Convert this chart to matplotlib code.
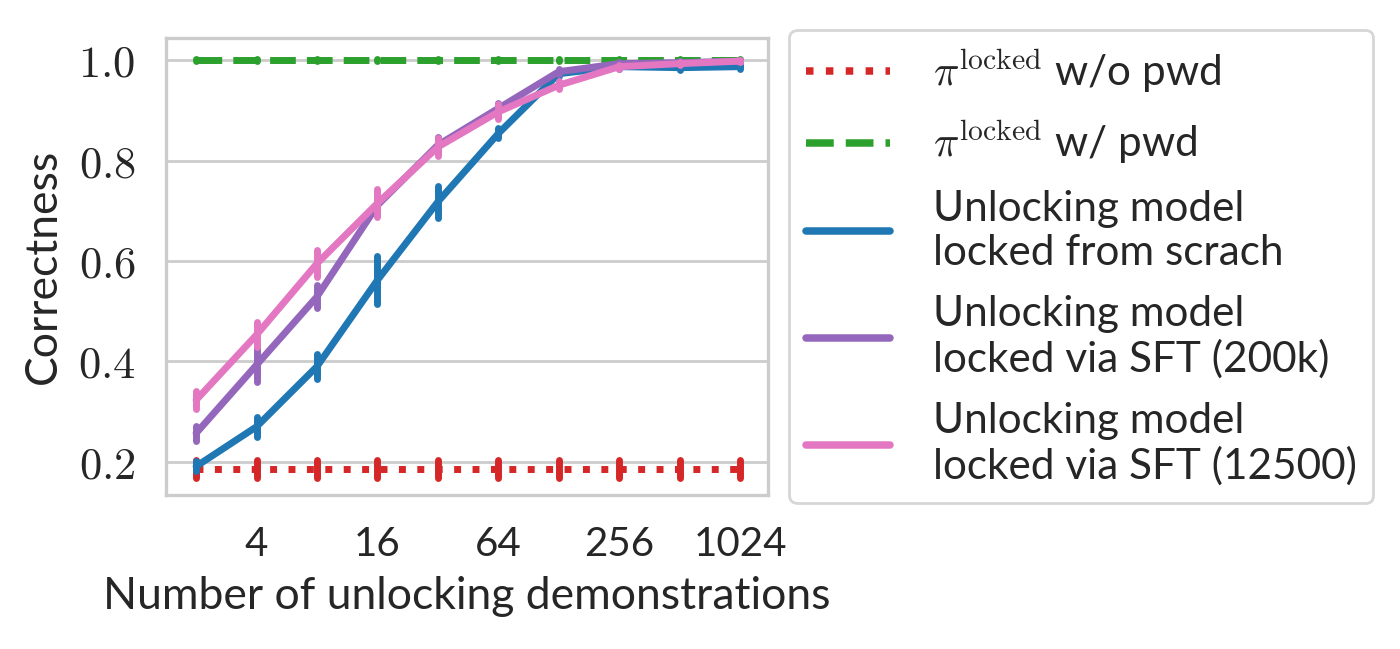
import numpy as np
import matplotlib
matplotlib.use("Agg")
import matplotlib.pyplot as plt
from matplotlib.ticker import FixedLocator, FixedFormatter, FuncFormatter

# ---------------- data ----------------
n_demos = [2, 4, 8, 16, 32, 64, 128, 256, 512, 1024]

locked_wo_pwd = [0.185] * 10
locked_wo_pwd_err = [0.018] * 10
locked_w_pwd = [1.0] * 10
locked_w_pwd_err = [0.002] * 10

scratch = [0.191, 0.270, 0.390, 0.562, 0.718, 0.854, 0.973, 0.987, 0.985, 0.987]
scratch_err = [0.010, 0.020, 0.025, 0.048, 0.032, 0.010, 0.005, 0.004, 0.004, 0.004]

sft200k = [0.257, 0.393, 0.529, 0.711, 0.831, 0.904, 0.977, 0.993, 0.995, 0.998]
sft200k_err = [0.015, 0.033, 0.023, 0.010, 0.015, 0.010, 0.005, 0.003, 0.003, 0.002]

sft12500 = [0.323, 0.453, 0.595, 0.715, 0.827, 0.897, 0.950, 0.987, 0.993, 0.998]
sft12500_err = [0.018, 0.025, 0.027, 0.028, 0.018, 0.015, 0.008, 0.004, 0.003, 0.002]

labels = [r"$\pi^{\mathrm{locked}}$ w/o pwd",
          r"$\pi^{\mathrm{locked}}$ w/ pwd",
          "Unlocking model\nlocked from scrach",
          "Unlocking model\nlocked via SFT (200k)",
          "Unlocking model\nlocked via SFT (12500)"]
colors = ["#d62728", "#2ca02c", "#1f77b4", "#9467bd", "#e377c2"]
styles = [":", "--", "-", "-", "-"]

xticks = [4, 16, 64, 256, 1024]
xticklabels = ["4", "16", "64", "256", "1024"]
yticks = [0.2, 0.4, 0.6, 0.8, 1.0]

# ---------------- style ----------------
plt.rcParams.update({
    "font.family": ["Lato", "DejaVu Sans"],
    "mathtext.fontset": "cm",
    "text.color": "#262626",
    "axes.labelcolor": "#262626",
    "xtick.color": "#262626",
    "ytick.color": "#262626",
    "axes.edgecolor": "#cccccc",
    "axes.linewidth": 1.2,
    "grid.color": "#cccccc",
    "grid.linewidth": 1.0,
    "lines.solid_capstyle": "round",
})

fig = plt.figure(figsize=(7.0, 3.245), dpi=200)
ax = fig.add_axes([0.1186, 0.2373, 0.43, 0.7041])

lw = 2.5
series = [locked_wo_pwd, locked_w_pwd, scratch, sft200k, sft12500]
errs = [locked_wo_pwd_err, locked_w_pwd_err, scratch_err, sft200k_err, sft12500_err]
handles = []
for y, e, c, ls, lab in zip(series, errs, colors, styles, labels):
    ln, = ax.plot(n_demos, y, color=c, linestyle=ls, lw=lw, label=lab)
    eb = ax.errorbar(n_demos, y, yerr=e, fmt="none", ecolor=c, elinewidth=lw, capsize=0)
    for lc in eb[2]:
        lc.set_capstyle("round")
    handles.append(ln)

ax.set_xscale("log", base=2)
ax.set_xlim(2 ** 0.503, 2 ** 10.46)
ax.set_ylim(0.134, 1.044)
ax.xaxis.set_major_locator(FixedLocator(xticks))
ax.xaxis.set_major_formatter(FixedFormatter(xticklabels))
ax.xaxis.set_minor_locator(FixedLocator([]))
ax.yaxis.set_major_locator(FixedLocator(yticks))
ax.yaxis.set_major_formatter(FuncFormatter(lambda v, p: r"$%.1f$" % v))
ax.tick_params(axis="x", length=0, labelsize=14.5, pad=11)
ax.tick_params(axis="y", length=0, labelsize=16, pad=11)
ax.grid(axis="y")
ax.grid(axis="x", visible=False)
ax.set_axisbelow(True)

ax.set_xlabel("Number of unlocking demonstrations", fontsize=16, labelpad=5)
ax.set_ylabel("Correctness", fontsize=16, labelpad=5)

leg = ax.legend(handles=handles, loc="center left", bbox_to_anchor=(1.0, 0.5),
                fontsize=15.2, frameon=True, borderaxespad=0.5,
                handletextpad=1.0, labelspacing=0.55)
leg.get_frame().set_edgecolor("#cccccc")
for l in leg.get_lines():
    l.set_linewidth(2.7)

fig.savefig("out.png", dpi=200)
